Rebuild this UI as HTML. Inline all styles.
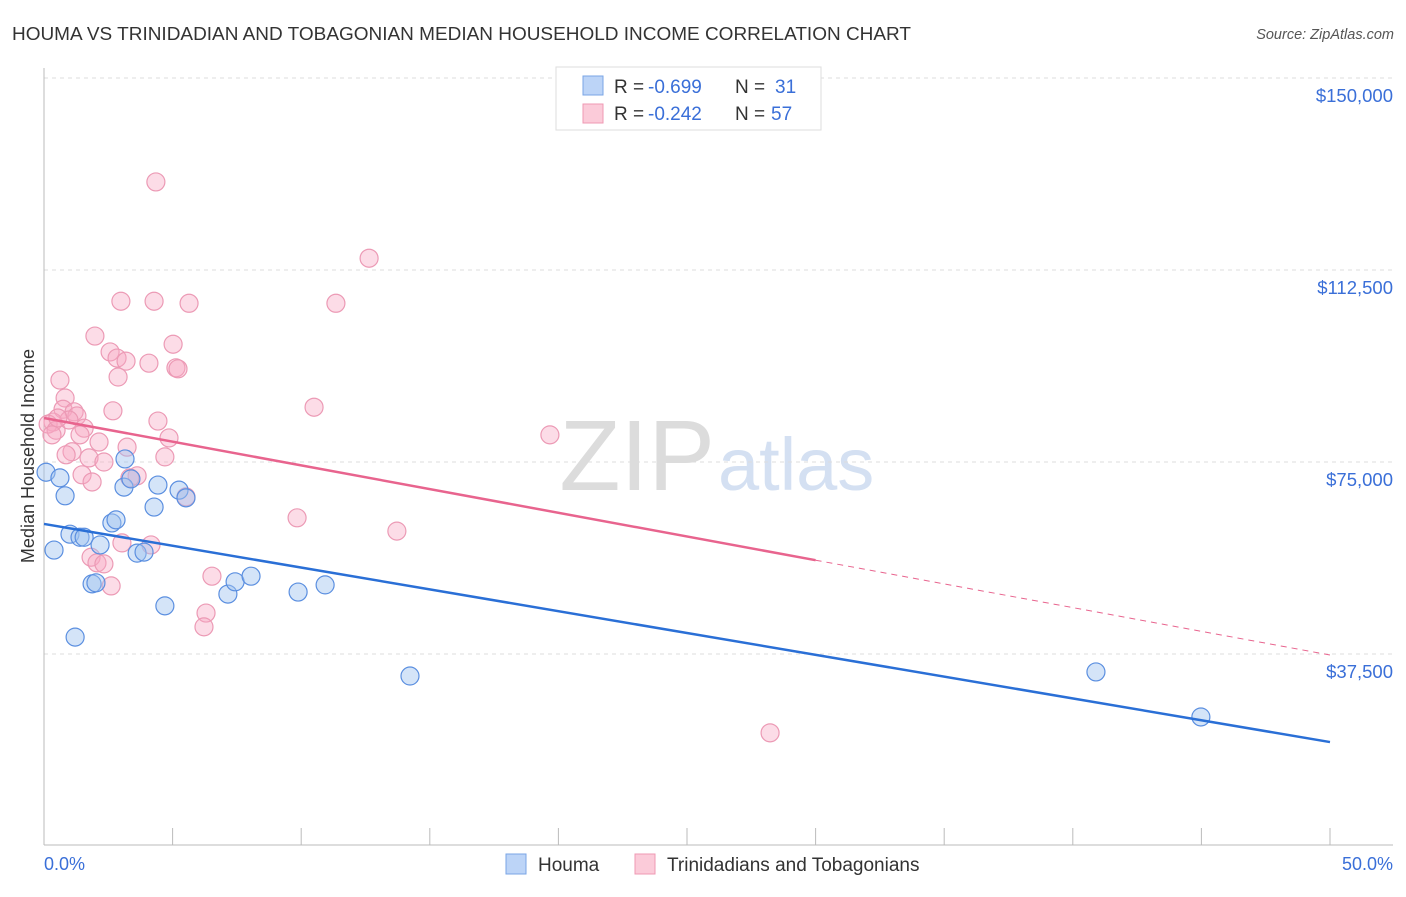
<!DOCTYPE html>
<html><head><meta charset="utf-8"><style>
body{margin:0;background:#fff;font-family:"Liberation Sans",sans-serif}
svg text{font-family:"Liberation Sans",sans-serif}
</style></head><body>
<svg id="c" width="1406" height="892">
<text x="12" y="40" font-size="18" fill="#333" textLength="899" lengthAdjust="spacingAndGlyphs">HOUMA VS TRINIDADIAN AND TOBAGONIAN MEDIAN HOUSEHOLD INCOME CORRELATION CHART</text>
<text x="1394" y="39" font-size="14.5" fill="#555" font-style="italic" text-anchor="end">Source: ZipAtlas.com</text>
<text x="715" y="490" font-size="100" fill="#dcdcdc" text-anchor="end" font-family="Liberation Serif">ZIP</text>
<text x="718" y="490" font-size="74" fill="#d4e0f2">atlas</text>
<text transform="translate(34,456) rotate(-90)" font-size="18" fill="#333" text-anchor="middle">Median Household Income</text>
<g id="grid"></g><g id="pts"></g><g id="lines"></g>
<g>
<rect x="556" y="67" width="265" height="63" fill="#fff" stroke="#ddd"/>
<rect x="583" y="76" width="20" height="19" fill="#bcd4f7" stroke="#7aa5e6"/>
<rect x="583" y="104" width="20" height="19" fill="#fbcbd9" stroke="#ef98b3"/>
<g font-size="19">
<text x="614" y="93" fill="#333">R =</text><text x="648" y="93" fill="#3a6fd8">-0.699</text>
<text x="735" y="93" fill="#333">N =</text><text x="775" y="93" fill="#3a6fd8">31</text></g>
<g font-size="19">
<text x="614" y="120" fill="#333">R =</text><text x="648" y="120" fill="#3a6fd8">-0.242</text>
<text x="735" y="120" fill="#333">N =</text><text x="771" y="120" fill="#3a6fd8">57</text></g>
</g>
<rect x="506" y="854" width="20" height="20" fill="#bcd4f7" stroke="#7aa5e6"/>
<text x="538" y="871" font-size="19" fill="#333">Houma</text>
<rect x="635" y="854" width="20" height="20" fill="#fbcbd9" stroke="#ef98b3"/>
<text x="667" y="871" font-size="19" fill="#333">Trinidadians and Tobagonians</text>
</svg>
<script>
const yTicks=[37500,75000,112500,150000];
const yTickLabels=["$37,500","$75,000","$112,500","$150,000"];
const houmaX=[0.08,0.62,0.82,0.39,1.01,1.40,1.56,2.18,1.87,2.02,1.21,3.15,3.11,3.38,2.64,2.80,3.62,3.89,4.28,4.43,4.70,5.25,5.52,7.15,7.43,8.05,9.88,10.93,14.23,40.90,44.98];
const houmaY=[73.0,71.9,68.4,57.8,60.9,60.3,60.3,58.8,51.2,51.4,40.8,75.6,70.1,71.7,63.1,63.7,57.2,57.4,66.2,70.5,46.9,69.5,68.0,49.2,51.6,52.7,49.6,51.0,33.2,34.0,25.2];
const triX=[4.35,12.64,2.99,4.28,5.64,11.35,1.98,5.02,2.57,2.84,3.19,4.08,5.13,5.21,2.88,0.62,0.82,10.50,0.74,1.17,1.28,2.68,4.43,19.67,0.35,0.16,0.47,0.31,0.97,1.56,1.40,2.14,4.86,3.23,1.09,1.75,2.33,4.70,3.62,3.34,1.48,1.87,5.52,9.84,13.72,3.03,4.16,1.83,2.06,2.33,2.61,6.53,6.30,6.22,28.23,0.54,0.86];
const triY=[129.7,114.8,106.4,106.4,106.0,106.0,99.6,98.0,96.5,95.3,94.7,94.3,93.4,93.2,91.6,91.0,87.5,85.7,85.3,84.8,84.0,85.0,83.0,80.3,82.8,82.4,81.2,80.3,83.2,81.6,80.3,78.9,79.7,77.9,77.0,75.8,75.0,76.0,72.3,71.9,72.5,71.1,68.2,64.1,61.5,59.2,58.8,56.4,55.3,55.1,50.8,52.7,45.5,42.8,22.1,83.6,76.4];
const houmaTrend=[62.9,20.3];
const triTrend=[83.6,37.3];
const triSolidEnd=30;
const NS="http://www.w3.org/2000/svg";
const X0=44,X1=1330,Y0=846,YPX=192/37500;
function sx(p){return X0+(X1-X0)*p/50;}
function sy(v){return Y0-v*YPX;}
function mk(t,a,parent){const e=document.createElementNS(NS,t);for(const k in a)e.setAttribute(k,a[k]);parent.appendChild(e);return e;}
const grid=document.getElementById('grid');
yTicks.forEach((t,i)=>{
 const l=mk('line',{x1:44,x2:1393,y1:sy(t),y2:sy(t),stroke:'#ddd','stroke-dasharray':'4,4'},grid);
 
 
 const tx=mk('text',{x:1393,y:sy(t)+24,'font-size':18.5,fill:'#3a6fd8','text-anchor':'end'},grid);
 tx.textContent=yTickLabels[i];
 
 
});
const ax=mk('line',{x1:44,x2:1393,y1:845,y2:845,stroke:'#bbb'},grid);


const ay=mk('line',{x1:44,x2:44,y1:68,y2:845,stroke:'#bbb'},grid);


for(let i=0;i<=10;i++){const t=mk('line',{x1:sx(i*5),x2:sx(i*5),y1:828,y2:845,stroke:'#bbb'},grid);
 
 }
const xl0=mk('text',{x:44,y:870,'font-size':18,fill:'#3a6fd8'},grid);xl0.textContent='0.0%';


const xl1=mk('text',{x:1393,y:870,'font-size':18,fill:'#3a6fd8','text-anchor':'end'},grid);xl1.textContent='50.0%';


const pts=document.getElementById('pts');
triX.forEach((x,i)=>{const c=mk('circle',{cx:sx(x),cy:sy(triY[i]*1000),r:9,fill:'rgba(247,168,194,0.4)',stroke:'#ec9ab5','stroke-width':1.2},pts);
 
 });
houmaX.forEach((x,i)=>{const c=mk('circle',{cx:sx(x),cy:sy(houmaY[i]*1000),r:9,fill:'rgba(160,195,240,0.45)',stroke:'#5b8fe0','stroke-width':1.2},pts);
 
 });
const lines=document.getElementById('lines');
const hl=mk('line',{x1:sx(0),y1:sy(houmaTrend[0]*1000),x2:sx(50),y2:sy(houmaTrend[1]*1000),stroke:'#2a6fd6','stroke-width':2.5},lines);


const ym=triTrend[0]+(triTrend[1]-triTrend[0])*triSolidEnd/50;
const tl=mk('line',{x1:sx(0),y1:sy(triTrend[0]*1000),x2:sx(triSolidEnd),y2:sy(ym*1000),stroke:'#e8648e','stroke-width':2.5},lines);


const td=mk('line',{x1:sx(triSolidEnd),y1:sy(ym*1000),x2:sx(50),y2:sy(triTrend[1]*1000),stroke:'#e8648e','stroke-width':1,'stroke-dasharray':'6,5'},lines);


</script>
</body></html>
